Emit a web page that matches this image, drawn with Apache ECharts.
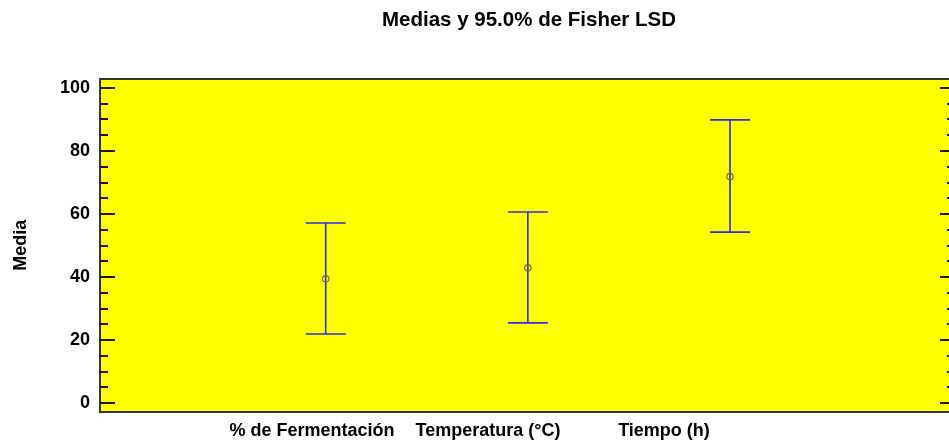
<!DOCTYPE html>
<html>
<head>
<meta charset="utf-8">
<script src="https://cdn.jsdelivr.net/npm/echarts@6/dist/echarts.min.js"></script>
<style>
  html, body { margin: 0; padding: 0; background: #ffffff; }
  #chart { width: 949px; height: 444px; }
</style>
</head>
<body>
<div id="chart"></div>
<script>
// Factor levels and their means with 95% Fisher LSD intervals
const categories = ['% de Fermentación', 'Temperatura (°C)', 'Tiempo (h)'];
const means = [39.4, 42.9, 71.8];
const lower = [21.9, 25.4, 54.2];
const upper = [57.1, 60.6, 89.8];

// Y axis tick values
const majorTicks = [0, 20, 40, 60, 80, 100];
const minorTicks = [5, 10, 15, 25, 30, 35, 45, 50, 55, 65, 70, 75, 85, 90, 95];

const FONT = "'Liberation Sans', Arial, sans-serif";
const FRAME = { color: '#333333', width: 2 };
const Y_MIN = -2.76, Y_MAX = 102.76;
const X_MIN = -0.1165, X_MAX = 4.0834;

const intervalData = categories.map((c, i) => [i + 1, lower[i], upper[i], means[i]]);

function tickAxis(position, values, len, withLabels, drawLine, offset) {
  return {
    type: 'value',
    gridIndex: 0,
    position: position,
    offset: offset || 0,
    min: Y_MIN,
    max: Y_MAX,
    axisLine: { show: !!drawLine, onZero: false, lineStyle: FRAME },
    splitLine: { show: false },
    axisTick: {
      show: true, inside: true, length: len,
      customValues: values,
      lineStyle: { color: '#1a1a1a', width: 2 }
    },
    axisLabel: withLabels ? {
      show: true, customValues: values, margin: 10,
      color: '#000', fontFamily: FONT, fontWeight: 'bold', fontSize: 18
    } : { show: false }
  };
}

const leftMajor = tickAxis('left', majorTicks, 15, true, true);
leftMajor.name = 'Media';
leftMajor.nameLocation = 'middle';
leftMajor.nameRotate = 90;
leftMajor.nameGap = 70;
leftMajor.nameTextStyle = { color: '#000', fontFamily: FONT, fontWeight: 'bold', fontSize: 18 };

function frameXAxis(position) {
  return {
    type: 'value', gridIndex: 0, position: position, min: X_MIN, max: X_MAX,
    axisLine: { show: true, onZero: false, lineStyle: FRAME },
    axisTick: { show: false }, axisLabel: { show: false }, splitLine: { show: false }
  };
}

const option = {
  animation: false,
  backgroundColor: '#ffffff',
  title: {
    text: 'Medias y 95.0% de Fisher LSD',
    left: 524,
    top: 5,
    textAlign: 'center',
    textStyle: { color: '#000', fontFamily: FONT, fontWeight: 'bold', fontSize: 20.5 }
  },
  grid: [
    { left: 100, top: 79, right: 0, height: 332.7, show: true,
      backgroundColor: '#ffff00', borderWidth: 0 },
    { left: 224, top: 79, width: 528, height: 332.7, show: false }
  ],
  xAxis: [
    frameXAxis('bottom'),
    { type: 'category', gridIndex: 1, data: categories, boundaryGap: true,
      axisLine: { show: false }, axisTick: { show: false }, splitLine: { show: false },
      axisLabel: { margin: 10, color: '#000', fontFamily: FONT, fontWeight: 'bold', fontSize: 18, interval: 0 } },
    frameXAxis('top')
  ],
  yAxis: [
    leftMajor,
    tickAxis('left', minorTicks, 8, false, false),
    tickAxis('right', majorTicks, 15, false, false, 6),
    tickAxis('right', minorTicks, 8, false, false, 6),
    { type: 'value', gridIndex: 1, show: false, min: Y_MIN, max: Y_MAX }
  ],
  series: [{
    type: 'custom',
    xAxisIndex: 0,
    yAxisIndex: 0,
    data: intervalData,
    renderItem: function (params, api) {
      const x = api.value(0);
      const pHi = api.coord([x, api.value(2)]);
      const pLo = api.coord([x, api.value(1)]);
      const pM = api.coord([x, api.value(3)]);
      const cap = 20;
      const stroke = '#2b2bf2';
      return {
        type: 'group',
        children: [
          { type: 'line', shape: { x1: pHi[0], y1: pHi[1], x2: pLo[0], y2: pLo[1] },
            style: { stroke: stroke, lineWidth: 1.6 } },
          { type: 'line', shape: { x1: pHi[0] - cap, y1: pHi[1], x2: pHi[0] + cap, y2: pHi[1] },
            style: { stroke: stroke, lineWidth: 1.6 } },
          { type: 'line', shape: { x1: pLo[0] - cap, y1: pLo[1], x2: pLo[0] + cap, y2: pLo[1] },
            style: { stroke: stroke, lineWidth: 1.6 } },
          { type: 'circle', shape: { cx: pM[0], cy: pM[1], r: 3.2 },
            style: { fill: 'none', stroke: '#6b6b2a', lineWidth: 1.2 } }
        ]
      };
    }
  }]
};

const chart = echarts.init(document.getElementById('chart'), null, { renderer: 'canvas' });
chart.setOption(option);
</script>
</body>
</html>
